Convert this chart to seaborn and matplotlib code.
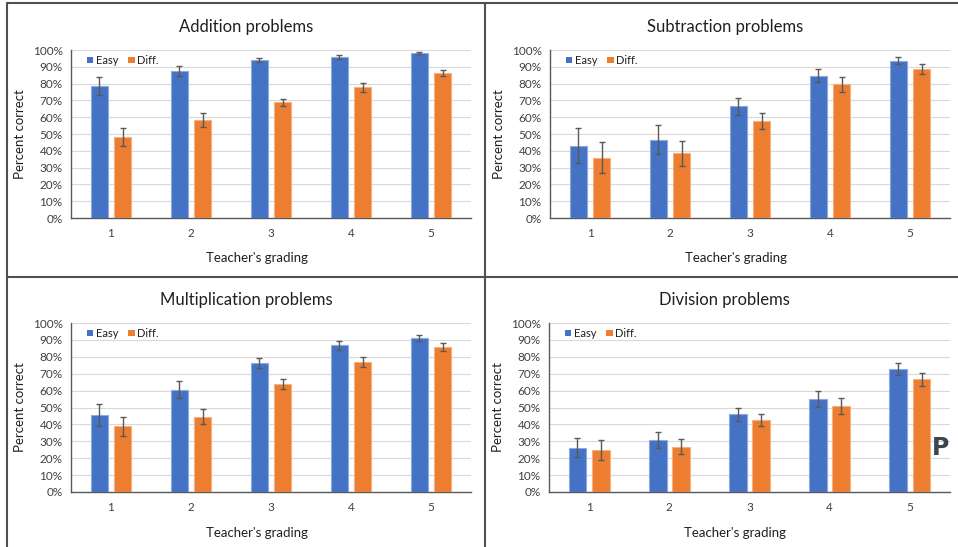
import matplotlib
matplotlib.use("Agg")
import matplotlib.pyplot as plt
from matplotlib.lines import Line2D
from matplotlib.patches import Patch
import seaborn as sns
import pandas as pd
import numpy as np

sns.set_theme(style="white")
plt.rcParams["font.family"] = ["Lato", "DejaVu Sans"]

# ---- data -------------------------------------------------------------
grades = ["1", "2", "3", "4", "5"]
levels = ["Easy", "Diff."]

add_easy = [78.5, 87.5, 94.0, 95.8, 98.4]
add_easy_err = [5.3, 3.0, 1.2, 1.4, 0.7]
add_diff = [48.3, 58.3, 68.8, 77.7, 86.3]
add_diff_err = [5.4, 4.0, 2.3, 2.5, 1.9]

sub_easy = [43.1, 46.7, 66.4, 84.7, 93.6]
sub_easy_err = [10.6, 8.4, 5.2, 3.9, 2.0]
sub_diff = [36.0, 38.4, 57.7, 79.5, 88.7]
sub_diff_err = [9.1, 7.3, 5.0, 4.5, 2.8]

mul_easy = [45.3, 60.6, 76.4, 86.7, 91.3]
mul_easy_err = [6.5, 4.8, 2.8, 2.4, 1.7]
mul_diff = [38.8, 44.6, 63.8, 76.8, 85.7]
mul_diff_err = [5.8, 4.6, 2.9, 3.0, 2.2]

div_easy = [26.3, 30.9, 45.9, 54.9, 72.7]
div_easy_err = [5.5, 4.7, 3.6, 4.6, 3.5]
div_diff = [24.8, 26.9, 42.4, 50.9, 66.7]
div_diff_err = [5.7, 4.5, 3.5, 4.6, 4.0]

panels = [
    ("Addition problems", add_easy, add_easy_err, add_diff, add_diff_err),
    ("Subtraction problems", sub_easy, sub_easy_err, sub_diff, sub_diff_err),
    ("Multiplication problems", mul_easy, mul_easy_err, mul_diff, mul_diff_err),
    ("Division problems", div_easy, div_easy_err, div_diff, div_diff_err),
]

BLUE = "#4472C4"
ORANGE = "#ED7D31"
EDGES = {"Easy": "#8EAADB", "Diff.": "#F4B183"}
TXT = "#404040"
AXC = "#595959"

W, H = 958, 547
fig = plt.figure(figsize=(W / 100, H / 100), dpi=100)

# plot areas in pixel units: (left, top, right, bottom)
boxes = [(71, 50, 471, 218), (550, 50, 950, 218),
         (71, 323, 471, 492), (549, 323, 950, 492)]


def px_axes(l, t, r, b):
    return fig.add_axes([l / W, 1 - b / H, (r - l) / W, (b - t) / H])


for (title, e, ee, d, de), box in zip(panels, boxes):
    ax = px_axes(*box)
    df = pd.DataFrame({
        "grade": grades * 2,
        "level": ["Easy"] * 5 + ["Diff."] * 5,
        "value": e + d,
        "err": ee + de,
    })
    sns.barplot(data=df, x="grade", y="value", hue="level", order=grades,
                hue_order=levels, palette=[BLUE, ORANGE], width=0.58,
                gap=0.24, errorbar=None, legend=False, ax=ax, zorder=3,
                saturation=1)
    for cont, lev in zip(ax.containers, levels):
        sub = df[df["level"] == lev]
        xs = [p.get_x() + p.get_width() / 2 for p in cont.patches]
        for p in cont.patches:
            p.set_edgecolor(EDGES[lev])
            p.set_linewidth(0.8)
        ax.errorbar(xs, sub["value"].values, yerr=sub["err"].values,
                    fmt="none", ecolor=AXC, elinewidth=1.0, capsize=2,
                    capthick=1.0, zorder=4)

    ax.set_xlim(-0.5, 4.5)
    ax.set_ylim(0, 100)
    ax.set_yticks(np.arange(0, 101, 10))
    ax.set_yticklabels([f"{v}%" for v in range(0, 101, 10)])
    ax.yaxis.grid(True, color="#D9D9D9", linewidth=0.8, zorder=0)
    ax.set_axisbelow(True)
    for s in ["top", "right"]:
        ax.spines[s].set_visible(False)
    for s in ["left", "bottom"]:
        ax.spines[s].set_color(AXC)
        ax.spines[s].set_linewidth(1.0)
    ax.tick_params(axis="y", labelsize=8.5, colors=TXT, length=0, pad=6)
    ax.tick_params(axis="x", labelsize=8.5, colors=TXT, length=0, pad=7)
    ax.set_title(title, fontsize=12, color="#202020", pad=13, x=0.4375)
    ax.set_xlabel("Teacher's grading", fontsize=9.5, color="#202020",
                  labelpad=9)
    ax.xaxis.set_label_coords(0.465, -0.205)
    ax.set_ylabel("Percent correct", fontsize=9.5, color="#202020",
                  labelpad=5)
    handles = [Patch(facecolor=BLUE, edgecolor="none"),
               Patch(facecolor=ORANGE, edgecolor="none")]
    ax.legend(handles, levels, loc="upper left", ncol=2, frameon=False,
              fontsize=8, handlelength=0.55, handleheight=0.55,
              handletextpad=0.25, columnspacing=0.9, borderpad=0,
              borderaxespad=0, bbox_to_anchor=(0.04, 0.97),
              labelcolor="#202020")

# panel frame lines
frame_kw = dict(color="#505050", linewidth=1.5, transform=fig.transFigure)
fig.add_artist(Line2D([7 / W, 1], [1 - 3 / H] * 2, **frame_kw))
fig.add_artist(Line2D([7 / W] * 2, [0, 1 - 3 / H], **frame_kw))
fig.add_artist(Line2D([485 / W] * 2, [0, 1 - 3 / H], **frame_kw))
fig.add_artist(Line2D([7 / W, 1], [1 - 277 / H] * 2, **frame_kw))

# stray mark at the right edge of the lower right panel
fig.text(932 / W, 1 - 448 / H, "P", fontsize=17, fontweight="bold",
         color="#3B4650", va="center", ha="left",
         family=["DejaVu Sans"])

fig.savefig("out.png", dpi=100)
